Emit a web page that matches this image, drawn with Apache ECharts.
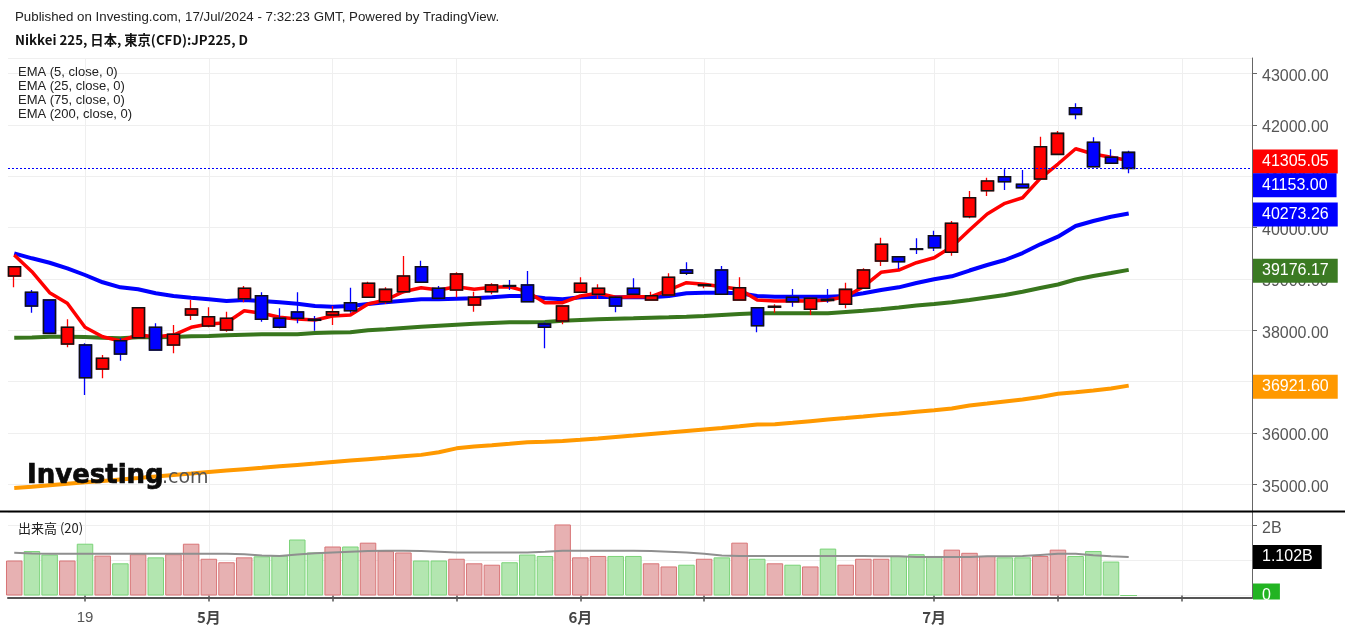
<!DOCTYPE html>
<html><head><meta charset="utf-8">
<script src="https://cdn.jsdelivr.net/npm/echarts@6/dist/echarts.min.js"></script>
<style>html,body{margin:0;padding:0;background:#fff}#c{width:1345px;height:634px}</style>
</head><body><div id="c"></div>
<script>
// ---------------- DATA ----------------
const dates = ['2024-04-15','2024-04-16','2024-04-17','2024-04-18','2024-04-19','2024-04-22','2024-04-23','2024-04-24','2024-04-25','2024-04-26','2024-04-30',
'2024-05-01','2024-05-02','2024-05-07','2024-05-08','2024-05-09','2024-05-10','2024-05-13','2024-05-14','2024-05-15','2024-05-16','2024-05-17','2024-05-20','2024-05-21','2024-05-22','2024-05-23','2024-05-24','2024-05-27','2024-05-28','2024-05-29','2024-05-30','2024-05-31',
'2024-06-03','2024-06-04','2024-06-05','2024-06-06','2024-06-07','2024-06-10','2024-06-11','2024-06-12','2024-06-13','2024-06-14','2024-06-17','2024-06-18','2024-06-19','2024-06-20','2024-06-21','2024-06-24','2024-06-25','2024-06-26','2024-06-27','2024-06-28',
'2024-07-01','2024-07-02','2024-07-03','2024-07-04','2024-07-05','2024-07-08','2024-07-09','2024-07-10','2024-07-11','2024-07-12','2024-07-16','2024-07-17'];
const futureDates = ['2024-07-18','2024-07-19','2024-07-22','2024-07-23','2024-07-24','2024-07-25'];

const open  = [39056,38739,38589,37732,37713,37245,37796,37855,38057,37713,38297,38083,38005,38614,38673,38233,38355,38210,38297,38536,38642,38556,38751,39237,38817,38784,38492,38751,38870,38881,38122,38180,38739,38700,38642,38817,38589,38686,39173,38870,39173,38589,38439,38450,38642,38408,38600,38505,38817,39349,39432,39585,39841,39518,40211,40718,40990,40842,40945,41426,42334,41660,41368,41465];
const close = [39237,38472,37940,38057,37076,37454,37537,38439,37615,37921,38414,38264,38233,38817,38213,38057,38233,38195,38361,38381,38914,38797,39056,38934,38622,39095,38642,38881,38860,38556,38057,38472,38914,38817,38472,38700,38673,39031,39109,38885,38700,38829,38089,38465,38556,38622,38580,38797,39173,39674,39335,39575,39608,40083,40581,40906,40893,40776,41574,41835,42205,41185,41251,41153];
const low   = [38836,38342,37935,37668,36739,37064,37407,37850,37600,37551,38200,38057,37972,38544,38166,38040,38135,37991,38102,38342,38630,38511,38720,38920,38610,38642,38361,38700,38784,38545,37648,38116,38730,38608,38350,38690,38580,38676,39076,38817,38690,38580,37960,38342,38459,38297,38536,38427,38810,39251,39193,39485,39543,39452,40180,40614,40731,40770,40940,41420,42108,41180,41245,41056];
const high  = [39250,38784,38600,38213,37746,37518,37843,38445,38135,38102,38589,38447,38361,38862,38739,38427,38739,38277,38472,38829,38945,38836,39446,39354,38862,39128,38751,38914,38978,39154,38150,38480,39031,38895,38660,39012,38751,39109,39323,38914,39251,39031,38450,38505,38803,38640,38803,38926,39206,39802,39440,39791,39939,40128,40712,40971,41134,41121,41769,41880,42419,41757,41524,41496];

const ema5   = [39465,39140,38731,38525,38057,37874,37791,37907,37874,37907,38057,38122,38147,38381,38330,38252,38219,38200,38277,38297,38511,38589,38751,38829,38784,38848,38797,38836,38848,38751,38536,38536,38667,38720,38642,38653,38653,38784,38926,38895,38848,38797,38589,38570,38576,38570,38589,38653,38848,39128,39173,39315,39413,39627,39952,40264,40472,40581,40959,41237,41535,41432,41368,41305.05];
const ema25  = [39498,39401,39315,39206,39076,38934,38836,38797,38720,38667,38634,38603,38570,38589,38570,38544,38517,38472,38459,38472,38511,38544,38576,38603,38603,38614,38622,38642,38667,38667,38622,38603,38642,38653,38642,38642,38642,38667,38720,38731,38731,38720,38667,38653,38653,38653,38653,38667,38720,38784,38836,38920,38992,39051,39163,39271,39368,39504,39674,39822,40030,40128,40211,40273.26];
const ema75  = [37855,37859,37874,37874,37868,37855,37845,37863,37863,37868,37882,37888,37901,37913,37921,37921,37921,37946,37956,37962,37999,38018,38044,38067,38089,38108,38126,38141,38155,38155,38161,38184,38200,38213,38223,38233,38244,38252,38264,38277,38297,38316,38330,38330,38330,38330,38330,38355,38379,38408,38443,38482,38511,38544,38589,38638,38686,38751,38823,38891,38988,39056,39115,39176.17];
const ema200 = [34928,34951,34981,35010,35039,35066,35095,35123,35152,35181,35210,35240,35267,35294,35321,35351,35378,35405,35434,35462,35489,35516,35545,35573,35625,35700,35736,35761,35789,35820,35830,35843,35867,35892,35921,35950,35980,36009,36040,36069,36098,36130,36165,36170,36198,36229,36260,36289,36320,36352,36381,36412,36441,36476,36535,36573,36612,36651,36700,36762,36794,36827,36866,36921.60];

// volume in billions (B)
const volume = [1.00,1.27,1.17,1.00,1.48,1.14,0.92,1.18,1.09,1.18,1.48,1.05,0.95,1.09,1.12,1.14,1.60,1.23,1.40,1.40,1.51,1.27,1.23,1.00,1.00,1.05,0.92,0.88,0.95,1.17,1.13,2.03,1.09,1.13,1.13,1.13,0.92,0.83,0.88,1.05,1.09,1.51,1.05,0.92,0.88,0.83,1.34,0.88,1.05,1.05,1.13,1.18,1.13,1.31,1.22,1.13,1.09,1.09,1.13,1.31,1.13,1.27,0.97,0];
const volMA20 = [1.22,1.20,1.19,1.19,1.19,1.19,1.19,1.19,1.19,1.19,1.19,1.19,1.19,1.18,1.14,1.13,1.17,1.21,1.23,1.25,1.27,1.28,1.28,1.27,1.25,1.23,1.23,1.23,1.23,1.23,1.25,1.28,1.28,1.28,1.28,1.28,1.27,1.25,1.23,1.19,1.14,1.13,1.13,1.13,1.13,1.13,1.13,1.13,1.13,1.12,1.12,1.10,1.10,1.10,1.10,1.12,1.12,1.13,1.16,1.19,1.19,1.15,1.12,1.102];

const tickDates  = ['2024-04-19','2024-05-01','2024-05-14','2024-05-23','2024-06-03','2024-06-12','2024-07-01','2024-07-10','2024-07-22'];
const tickLabels = ['19','5月','','','6月','','7月','',''];
const monthLabels = ['5月','6月','7月'];

const emaNames = ['EMA (5, close, 0)','EMA (25, close, 0)','EMA (75, close, 0)','EMA (200, close, 0)'];
const volName = '出来高 (20)';
const header1 = 'Published on Investing.com, 17/Jul/2024 - 7:32:23 GMT, Powered by TradingView.';
const header2 = 'Nikkei 225, 日本, 東京(CFD):JP225, D';

// ---------------- LAYOUT / STYLE ----------------
const UP = '#ff0000', DOWN = '#0000ff';
const C5 = '#ff0000', C25 = '#0000ff', C75 = '#38761d', C200 = '#ff9900';
const cats = dates.concat(futureDates);
const BAND = 17.69;
const FIRST_X = 14.24;
const dataLeft = FIRST_X - BAND / 2;
const dataWidth = BAND * cats.length;
const FRAME_L = 8, FRAME_R = 1252;
const MAIN_TOP = 58, MAIN_BOT = 511, VOL_TOP = 512, VOL_BOT = 598;
const PRICE_MIN = 34480, PRICE_MAX = 43302;
const VOL_MIN = -0.0714, VOL_MAX = 2.386;

const last = dates.length - 1;
const isUp = i => close[i] >= open[i];

const chart = echarts.init(document.getElementById('c'), null, {renderer: 'canvas'});

const tickSet = i => tickDates.indexOf(cats[i]) >= 0;
const gridLineColor = '#efefef';
const axisGray = '#555';
const LATIN = '"Liberation Sans", Arial, sans-serif';

function boxLabel(bg, dy, text) {
  return {
    show: true, position: 'end', distance: 1,
    formatter: text,
    backgroundColor: bg, color: '#fff',
    fontSize: 16, fontFamily: LATIN,
    padding: [4, 9, 3, 9], lineHeight: 17,
    offset: [0, dy]
  };
}
const hidden = {color: 'rgba(0,0,0,0)', width: 0};
const yLabel = (fmt) => ({fontSize: 16, color: axisGray, margin: 10, fontFamily: LATIN,
  verticalAlign: 'top', lineHeight: 6, showMinLabel: false, showMaxLabel: false, formatter: fmt});

const option = {
  animation: false,
  backgroundColor: '#ffffff',
  grid: [
    {left: dataLeft, top: MAIN_TOP, width: dataWidth, height: MAIN_BOT - MAIN_TOP},
    {left: dataLeft, top: VOL_TOP, width: dataWidth, height: VOL_BOT - VOL_TOP},
    {left: FRAME_L, top: MAIN_TOP, width: FRAME_R - FRAME_L, height: MAIN_BOT - MAIN_TOP},
    {left: FRAME_L, top: VOL_TOP, width: FRAME_R - FRAME_L, height: VOL_BOT - VOL_TOP}
  ],
  xAxis: [
    {gridIndex: 0, type: 'category', data: cats, boundaryGap: true,
     axisLine: {show: false}, axisTick: {show: false}, axisLabel: {show: false},
     splitLine: {show: true, alignWithLabel: true, interval: (i) => tickSet(i), lineStyle: {color: gridLineColor, width: 1}}},
    {gridIndex: 1, type: 'category', data: cats, boundaryGap: true,
     axisLine: {show: false},
     axisTick: {show: true, alignWithLabel: true, interval: (i) => tickSet(i), length: 6, lineStyle: {color: axisGray, width: 1.5}},
     axisLabel: {show: true, interval: (i) => tickSet(i), margin: 12,
       formatter: (v) => { const k = tickDates.indexOf(v); const t = k >= 0 ? tickLabels[k] : ''; if (!t) return ''; return monthLabels.indexOf(t) >= 0 ? '{m|' + t + '}' : '{d|' + t + '}'; },
       rich: {
         m: {fontSize: 15, fontWeight: 'bold', color: '#444', fontFamily: '"Noto Sans CJK JP", sans-serif'},
         d: {fontSize: 15, color: '#555', fontFamily: LATIN}
       }},
     splitLine: {show: true, alignWithLabel: true, interval: (i) => tickSet(i), lineStyle: {color: gridLineColor, width: 1}}},
    {gridIndex: 2, type: 'value', min: 0, max: 1, show: false},
    {gridIndex: 3, type: 'value', min: 0, max: 1, show: true,
     axisLine: {show: true, onZero: false, lineStyle: {color: axisGray, width: 2}},
     axisTick: {show: false}, axisLabel: {show: false}, splitLine: {show: false}}
  ],
  yAxis: [
    {gridIndex: 0, type: 'value', min: PRICE_MIN, max: PRICE_MAX, show: false, splitLine: {show: false}},
    {gridIndex: 1, type: 'value', min: VOL_MIN, max: VOL_MAX, show: false, splitLine: {show: false}},
    {gridIndex: 2, type: 'value', position: 'right', min: PRICE_MIN, max: PRICE_MAX, splitNumber: 8,
     axisLine: {show: true, onZero: false, lineStyle: {color: '#666', width: 1}},
     axisTick: {show: true, length: 5, lineStyle: {color: '#666'}},
     axisLabel: yLabel((v) => v.toFixed(2)),
     splitLine: {show: true, lineStyle: {color: gridLineColor, width: 1}}},
    {gridIndex: 3, type: 'value', position: 'right', min: VOL_MIN, max: VOL_MAX, splitNumber: 2,
     axisLine: {show: true, onZero: false, lineStyle: {color: '#666', width: 1}},
     axisTick: {show: true, length: 5, lineStyle: {color: '#666'}},
     axisLabel: yLabel((v) => v === 0 ? '0' : v + 'B'),
     splitLine: {show: true, lineStyle: {color: gridLineColor, width: 1}}}
  ],
  series: [
    {name: emaNames[3], type: 'line', xAxisIndex: 0, yAxisIndex: 0, data: ema200, symbol: 'none', lineStyle: {color: C200, width: 4}, z: 2},
    {name: emaNames[2], type: 'line', xAxisIndex: 0, yAxisIndex: 0, data: ema75, symbol: 'none', lineStyle: {color: C75, width: 4}, z: 2},
    {name: emaNames[1], type: 'line', xAxisIndex: 0, yAxisIndex: 0, data: ema25, symbol: 'none', lineStyle: {color: C25, width: 4}, z: 2},
    {name: emaNames[0], type: 'line', xAxisIndex: 0, yAxisIndex: 0, data: ema5, symbol: 'none', lineStyle: {color: C5, width: 3.5}, z: 2},
    {name: 'wick', type: 'candlestick', xAxisIndex: 0, yAxisIndex: 0, barWidth: 12.5, z: 3,
     data: dates.map((d, i) => [open[i], close[i], low[i], high[i]]),
     itemStyle: {color: UP, color0: DOWN, borderColor: UP, borderColor0: DOWN, borderWidth: 1.3}},
    {name: 'JP225', type: 'candlestick', xAxisIndex: 0, yAxisIndex: 0, barWidth: 12.5, z: 4,
     data: dates.map((d, i) => [open[i], close[i], Math.min(open[i], close[i]), Math.max(open[i], close[i])]),
     itemStyle: {color: UP, color0: DOWN, borderColor: '#111', borderColor0: '#111', borderWidth: 1.6}},
    {name: volName, type: 'bar', xAxisIndex: 1, yAxisIndex: 1, barWidth: 16.5, z: 2,
     data: volume.map((v, i) => ({value: v, itemStyle: isUp(i)
        ? {color: '#e7b1b2', borderColor: '#d87476', borderWidth: 1}
        : {color: '#b3e6b0', borderColor: '#7bd378', borderWidth: 1}}))},
    {name: 'vol MA', type: 'line', xAxisIndex: 1, yAxisIndex: 1, data: volMA20, symbol: 'none', lineStyle: {color: '#8f8f8f', width: 2}, z: 3},
    {name: 'price marks', type: 'line', xAxisIndex: 2, yAxisIndex: 2, data: [], z: 6,
     markLine: {symbol: ['none', 'none'], silent: true, animation: false,
       data: [
         {yAxis: ema200[last], lineStyle: hidden, label: boxLabel(C200, 1, () => ema200[last].toFixed(2))},
         {yAxis: ema75[last], lineStyle: hidden, label: boxLabel('#3b7a23', 1, () => ema75[last].toFixed(2))},
         {yAxis: ema25[last], lineStyle: hidden, label: boxLabel(C25, 1, () => ema25[last].toFixed(2))},
         {yAxis: ema5[last], lineStyle: hidden, label: boxLabel(C5, 1, () => ema5[last].toFixed(2))},
         {yAxis: close[last], lineStyle: {color: isUp(last) ? UP : DOWN, type: [2, 2], width: 1},
          label: boxLabel(isUp(last) ? UP : DOWN, 17, () => close[last].toFixed(2))}
       ]}},
    {name: 'vol marks', type: 'line', xAxisIndex: 3, yAxisIndex: 3, data: [], z: 6,
     markLine: {symbol: ['none', 'none'], silent: true, animation: false,
       data: [
         {yAxis: volMA20[last], lineStyle: hidden, label: boxLabel('#000000', 0, () => volMA20[last].toFixed(3) + 'B')},
         {yAxis: volume[last], lineStyle: hidden, label: boxLabel(isUp(last) ? '#dd2222' : '#22b422', 0, () => volume[last] === 0 ? '0' : volume[last].toFixed(3) + 'B')}
       ]}}
  ],
  graphic: [
    {type: 'text', x: 15, y: 17, z: 10, style: {text: header1, font: '13.3px ' + LATIN, fill: '#222', verticalAlign: 'middle'}},
    {type: 'text', x: 15, y: 40, z: 10, style: {text: header2, font: 'bold 13.3px "Noto Sans CJK JP", sans-serif', fill: '#111', verticalAlign: 'middle'}},
    ...emaNames.map((t, k) => ({type: 'text', x: 18, y: 72 + 14 * k, z: 10,
      style: {text: t, font: '13px ' + LATIN, fill: '#222', verticalAlign: 'middle'}})),
    {type: 'text', x: 18, y: 528, z: 10, style: {text: volName, font: '13px "Noto Sans CJK JP", sans-serif', fill: '#222', verticalAlign: 'middle'}},
    {type: 'text', x: 27, y: 476, z: 20, style: {text: 'Investing', font: 'bold 26px "DejaVu Sans", sans-serif', fill: '#0b0b0b', stroke: '#0b0b0b', lineWidth: 0.7, verticalAlign: 'middle'}},
    {type: 'text', x: 162, y: 478, z: 20, style: {text: '.com', font: '19px "DejaVu Sans", sans-serif', fill: '#555', verticalAlign: 'middle'}},
    {type: 'rect', z: 40, shape: {x: 1253, y: 599.5, width: 92, height: 34.5}, style: {fill: '#ffffff'}},
    {type: 'line', z: 30, shape: {x1: 0, y1: 511.5, x2: 1345, y2: 511.5}, style: {stroke: '#000', lineWidth: 2}}
  ]
};
chart.setOption(option);
</script>
</body></html>
